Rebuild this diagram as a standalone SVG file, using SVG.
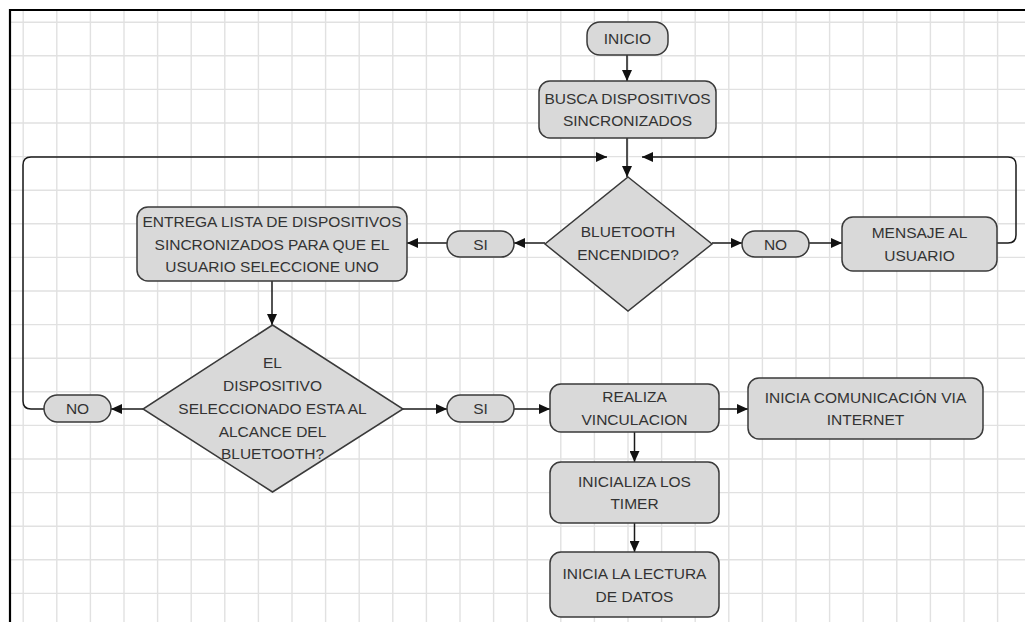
<svg xmlns="http://www.w3.org/2000/svg" width="1025" height="622" viewBox="0 0 1025 622">
  <style>
    .grid { stroke: #e1e1e1; stroke-width: 1.4; fill: none; }
    .frame { stroke: #000; stroke-width: 2.2; fill: none; }
    .shape { fill: #d9d9d9; stroke: #3a3a3a; stroke-width: 1.5; }
    .lbl { font-family: "Liberation Sans", Arial, sans-serif; font-size: 15.5px; fill: #333; text-anchor: middle; }
    .conn { stroke: #1a1a1a; stroke-width: 1.5; fill: none; }
  </style>
  <defs>
    <marker id="arrow" markerUnits="userSpaceOnUse" markerWidth="12" markerHeight="10" refX="11" refY="5" orient="auto">
      <path d="M0,0 L11,5 L0,10 z" fill="#111"/>
    </marker>
  </defs>

  <rect x="0" y="0" width="1025" height="622" fill="#fff"/>

  <!-- background grid -->
  <path class="grid" d="M23.2,10V622 M56.8,10V622 M90.4,10V622 M124,10V622 M157.6,10V622 M191.2,10V622 M224.8,10V622 M258.4,10V622 M292,10V622 M325.6,10V622 M359.2,10V622 M392.8,10V622 M426.4,10V622 M460,10V622 M493.6,10V622 M527.2,10V622 M560.8,10V622 M594.4,10V622 M628,10V622 M661.6,10V622 M695.2,10V622 M728.8,10V622 M762.4,10V622 M796,10V622 M829.6,10V622 M863.2,10V622 M896.8,10V622 M930.4,10V622 M964,10V622 M997.6,10V622
    M10,22.2H1025 M10,55.8H1025 M10,89.4H1025 M10,123H1025 M10,156.6H1025 M10,190.2H1025 M10,223.8H1025 M10,257.4H1025 M10,291H1025 M10,324.6H1025 M10,358.2H1025 M10,391.8H1025 M10,425.4H1025 M10,459H1025 M10,492.6H1025 M10,526.2H1025 M10,559.8H1025 M10,593.4H1025"/>

  <!-- page frame -->
  <path class="frame" d="M10,622V10H1025"/>

  <!-- connectors -->
  <g id="connectors">
    <path class="conn" d="M627,55V81" marker-end="url(#arrow)"/>
    <path class="conn" d="M627,138V177" marker-end="url(#arrow)"/>
    <path class="conn" d="M545,243H514" marker-end="url(#arrow)"/>
    <path class="conn" d="M447,243H407" marker-end="url(#arrow)"/>
    <path class="conn" d="M712,243H742" marker-end="url(#arrow)"/>
    <path class="conn" d="M809,243H842" marker-end="url(#arrow)"/>
    <path class="conn" d="M997,243H1008Q1016,243 1016,235V165Q1016,157 1008,157H642" marker-end="url(#arrow)"/>
    <path class="conn" d="M272,281V325" marker-end="url(#arrow)"/>
    <path class="conn" d="M143,409H111" marker-end="url(#arrow)"/>
    <path class="conn" d="M44,409H31Q23,409 23,401V165Q23,157 31,157H607" marker-end="url(#arrow)"/>
    <path class="conn" d="M403,409H447" marker-end="url(#arrow)"/>
    <path class="conn" d="M514,409H550" marker-end="url(#arrow)"/>
    <path class="conn" d="M719,409H748" marker-end="url(#arrow)"/>
    <path class="conn" d="M634.5,432V462" marker-end="url(#arrow)"/>
    <path class="conn" d="M634.5,523V552" marker-end="url(#arrow)"/>
  </g>

  <!-- nodes -->
  <g id="inicio">
    <rect class="shape" x="587" y="22" width="81" height="33" rx="13"/>
    <text class="lbl" x="627.5" y="44">INICIO</text>
  </g>

  <g id="busca">
    <rect class="shape" x="539" y="81" width="177" height="57" rx="11"/>
    <text class="lbl" x="627.5" y="104">BUSCA DISPOSITIVOS</text>
    <text class="lbl" x="627.5" y="126">SINCRONIZADOS</text>
  </g>

  <g id="bluetooth-encendido">
    <polygon class="shape" points="628,177 712,244 628,311 545,244"/>
    <text class="lbl" x="628" y="237">BLUETOOTH</text>
    <text class="lbl" x="628" y="260">ENCENDIDO?</text>
  </g>

  <g id="si-1">
    <rect class="shape" x="447" y="231" width="67" height="26" rx="13"/>
    <text class="lbl" x="480.5" y="249.5">SI</text>
  </g>

  <g id="no-1">
    <rect class="shape" x="742" y="231" width="67" height="26" rx="13"/>
    <text class="lbl" x="775.5" y="249.5">NO</text>
  </g>

  <g id="mensaje">
    <rect class="shape" x="842" y="217" width="155" height="54" rx="11"/>
    <text class="lbl" x="919.5" y="238">MENSAJE AL</text>
    <text class="lbl" x="919.5" y="261">USUARIO</text>
  </g>

  <g id="entrega-lista">
    <rect class="shape" x="137" y="207" width="270" height="74" rx="11"/>
    <text class="lbl" x="272" y="227">ENTREGA LISTA DE DISPOSITIVOS</text>
    <text class="lbl" x="272" y="249.5">SINCRONIZADOS PARA QUE EL</text>
    <text class="lbl" x="272" y="272">USUARIO SELECCIONE UNO</text>
  </g>

  <g id="alcance">
    <polygon class="shape" points="272.5,325 403,409 272.5,492 143,409"/>
    <text class="lbl" x="272.5" y="368">EL</text>
    <text class="lbl" x="272.5" y="391">DISPOSITIVO</text>
    <text class="lbl" x="272.5" y="413.5">SELECCIONADO ESTA AL</text>
    <text class="lbl" x="272.5" y="436.5">ALCANCE DEL</text>
    <text class="lbl" x="272.5" y="459">BLUETOOTH?</text>
  </g>

  <g id="no-2">
    <rect class="shape" x="44" y="395" width="67" height="27" rx="13.5"/>
    <text class="lbl" x="77.5" y="414">NO</text>
  </g>

  <g id="si-2">
    <rect class="shape" x="447" y="395" width="67" height="27" rx="13.5"/>
    <text class="lbl" x="480.5" y="414">SI</text>
  </g>

  <g id="realiza">
    <rect class="shape" x="550" y="384" width="169" height="48" rx="11"/>
    <text class="lbl" x="634.5" y="402">REALIZA</text>
    <text class="lbl" x="634.5" y="425">VINCULACION</text>
  </g>

  <g id="comunicacion">
    <rect class="shape" x="748" y="378" width="235" height="61" rx="11"/>
    <text class="lbl" x="865.5" y="402.5">INICIA COMUNICACIÓN VIA</text>
    <text class="lbl" x="865.5" y="425">INTERNET</text>
  </g>

  <g id="inicializa">
    <rect class="shape" x="550" y="462" width="169" height="61" rx="11"/>
    <text class="lbl" x="634.5" y="486.5">INICIALIZA LOS</text>
    <text class="lbl" x="634.5" y="509">TIMER</text>
  </g>

  <g id="lectura">
    <rect class="shape" x="550" y="552" width="169" height="65" rx="11"/>
    <text class="lbl" x="634.5" y="579">INICIA LA LECTURA</text>
    <text class="lbl" x="634.5" y="601.5">DE DATOS</text>
  </g>
</svg>
